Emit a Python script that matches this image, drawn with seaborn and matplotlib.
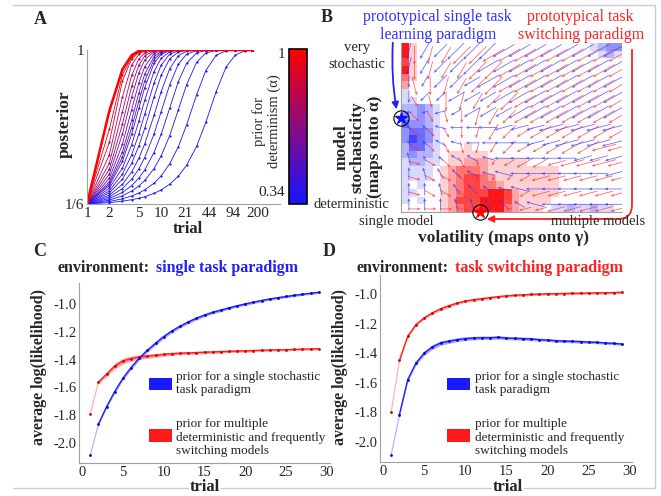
import numpy as np
import pandas as pd
import matplotlib
matplotlib.use('Agg')
import matplotlib.pyplot as plt
import seaborn as sns
from matplotlib.colors import LinearSegmentedColormap, Normalize
from matplotlib.cm import ScalarMappable
from matplotlib.patches import Rectangle
from matplotlib.lines import Line2D
from matplotlib.ticker import FormatStrFormatter, NullLocator

sns.set_style('white')
plt.rcParams['font.family'] = ['Liberation Serif', 'DejaVu Serif']
plt.rcParams['axes.unicode_minus'] = False

W, H = 661, 496
GREY = '#a0a0a0'

# ---------------- A: posterior of the true model over trials ----------------
trials_a = [1, 2, 3, 4, 5, 6, 8, 10, 13, 17, 22, 30, 40, 55, 75, 100, 135, 170]
alphas_a = [1.0, 0.93, 0.86, 0.79, 0.73, 0.67, 0.62, 0.57, 0.53, 0.50,
            0.47, 0.44, 0.42, 0.40, 0.39, 0.38, 0.37, 0.36, 0.35, 0.34]
# read until each curve reaches the top, it stays at 1 afterwards
posterior_a = [
    [0.167, 0.670, 0.895, 0.972, 0.995],
    [0.167, 0.570, 0.865, 0.962, 0.990, 0.998],
    [0.167, 0.500, 0.833, 0.952, 0.988, 0.997],
    [0.167, 0.433, 0.745, 0.918, 0.977, 0.994],
    [0.167, 0.387, 0.666, 0.863, 0.952, 0.984, 0.998],
    [0.167, 0.354, 0.599, 0.804, 0.918, 0.968, 0.996],
    [0.167, 0.328, 0.545, 0.745, 0.877, 0.946, 0.991, 0.998],
    [0.167, 0.305, 0.490, 0.678, 0.822, 0.910, 0.980, 0.996],
    [0.167, 0.287, 0.448, 0.620, 0.767, 0.869, 0.964, 0.991, 0.999],
    [0.167, 0.276, 0.420, 0.580, 0.724, 0.833, 0.948, 0.985, 0.998],
    [0.167, 0.266, 0.397, 0.545, 0.684, 0.797, 0.928, 0.977, 0.996],
    [0.167, 0.252, 0.361, 0.487, 0.615, 0.728, 0.883, 0.955, 0.990, 0.999],
    [0.167, 0.238, 0.328, 0.433, 0.545, 0.652, 0.821, 0.918, 0.977, 0.996],
    [0.167, 0.227, 0.301, 0.387, 0.481, 0.576, 0.745, 0.863, 0.952, 0.989, 0.998],
    [0.167, 0.215, 0.273, 0.340, 0.414, 0.492, 0.646, 0.774, 0.898, 0.969, 0.993, 0.999],
    [0.167, 0.205, 0.250, 0.301, 0.357, 0.418, 0.545, 0.666, 0.811, 0.923, 0.977, 0.997],
    [0.167, 0.196, 0.229, 0.266, 0.307, 0.351, 0.445, 0.544, 0.684, 0.828, 0.928, 0.984, 0.998],
    [0.167, 0.188, 0.211, 0.237, 0.264, 0.294, 0.358, 0.427, 0.536, 0.675, 0.812, 0.933, 0.984, 0.998],
    [0.167, 0.180, 0.195, 0.210, 0.226, 0.243, 0.279, 0.319, 0.384, 0.476, 0.594, 0.757, 0.889, 0.971, 0.996],
    [0.167, 0.174, 0.182, 0.190, 0.198, 0.206, 0.224, 0.243, 0.273, 0.317, 0.376, 0.478, 0.609, 0.774, 0.908,
     0.973, 0.996, 0.999],
]
xticks_a = [1, 2, 5, 10, 21, 44, 94, 200]

# ---------------- B: likelihood map + gradient arrows ----------------
# '.' white, '1'-'5' red strength, 'a'-'e' blue strength (rows top to bottom)
heat_rows = [
    "51" + "." * 22 + "abcc",
    "51" + "." * 23 + "aba",
    "41",
    "51",
    "31",
    "2",
    "a",
    "aa",
    "bbcba",
    "cbcba",
    "dccba",
    "cddca",
    "cedca",
    "bddba...1",
    "bcbba.11111",
    "abbaa.1122211111",
    "aaaa.123332111111111",
    "aaaa.123443211111111",
    "a.a..123443321111111",
    "aa...123444554211111",
    "a.a..12444555421111",
    "....." + "12344555321" + "11" + ".aabaabaa.",
]
# arrow direction in steps of 15 degrees (0 = right, 6 = up, C = left, I = down)
blue_dirs = [
    "HGFFFFEEEEEEEE",
    "HGFFFEEEEEEEEE",
    "IGFFEEEEEEEEEE",
    "IFFEEEEEEEEEEE",
    "CDDEEEEEEEEEEE",
    "99BCCCDDDDDDDD",
    "89ABCCCCDDDDDD",
    "789AABCCCCCDDD",
    "6789ABBCCCCCCD",
    "66789ABBCCCCCC",
    "6667789ABCCCCC",
]
red_dirs = [
    "IHGFFEEEEEEEEE",
    "IHGGFFEEEEEEEE",
    "JIHGFFEEEEEEEE",
    "KJIHGFFEEEEEEE",
    "LKJIHGFEEEEEEE",
    "LLKIHGFEEEEEEE",
    "MLKJHGFEEEEEDD",
    "NMLKIGEEEDDDDD",
    "NMMLJHFEDDDDDD",
    "NMMLJHFEDDDDDD",
    "000NLFDDDDDDDD",
]
blue_lens = [
    "33344444444444",
    "33334444444444",
    "22333444444444",
    "22233344444444",
    "11223334444444",
    "11222333344444",
    "11222233334444",
    "21122233333333",
    "22222233333333",
    "22222223333333",
    "22222222333333",
]
red_lens = [
    "33344444444444",
    "33334444444444",
    "33333444444444",
    "22333344444444",
    "22223334444444",
    "22222333444444",
    "22222233344444",
    "22221123334444",
    "22221112333333",
    "22222112333333",
    "22221112233333",
]

# ---------------- C / D: average log likelihood ----------------
trials_cd = list(range(1, 30))
c_blue = [-2.090, -1.865, -1.740, -1.630, -1.535, -1.458, -1.390, -1.333, -1.283, -1.235,
          -1.195, -1.160, -1.130, -1.103, -1.080, -1.060, -1.044, -1.028, -1.013, -1.000,
          -0.987, -0.975, -0.964, -0.955, -0.946, -0.938, -0.930, -0.923, -0.916]
c_blue_err = [0.004, 0.008, 0.010, 0.012, 0.013, 0.014, 0.014, 0.014, 0.014, 0.013,
              0.013, 0.012, 0.012, 0.012, 0.011, 0.011, 0.011, 0.010, 0.010, 0.010,
              0.010, 0.009, 0.009, 0.009, 0.009, 0.009, 0.008, 0.008, 0.008]
c_red = [-1.790, -1.563, -1.505, -1.447, -1.410, -1.393, -1.382, -1.375, -1.370, -1.363,
         -1.358, -1.355, -1.352, -1.350, -1.347, -1.345, -1.343, -1.341, -1.339, -1.337,
         -1.335, -1.333, -1.331, -1.330, -1.329, -1.327, -1.325, -1.324, -1.322]
c_red_err = [0.004, 0.012, 0.017, 0.020, 0.020, 0.018, 0.016, 0.015, 0.014, 0.013,
             0.012, 0.011, 0.011, 0.010, 0.010, 0.010, 0.010, 0.009, 0.009, 0.009,
             0.009, 0.009, 0.008, 0.008, 0.008, 0.008, 0.008, 0.008, 0.008]
d_blue = [-2.087, -1.815, -1.580, -1.467, -1.400, -1.358, -1.331, -1.320, -1.309, -1.302,
          -1.298, -1.296, -1.296, -1.293, -1.298, -1.300, -1.302, -1.304, -1.309, -1.311,
          -1.316, -1.318, -1.320, -1.322, -1.325, -1.327, -1.331, -1.334, -1.338]
d_blue_err = [0.004, 0.008, 0.012, 0.014, 0.015, 0.015, 0.015, 0.014, 0.013, 0.013,
              0.012, 0.012, 0.012, 0.012, 0.011, 0.011, 0.011, 0.011, 0.010, 0.010,
              0.010, 0.010, 0.010, 0.010, 0.009, 0.009, 0.009, 0.009, 0.009]
d_red = [-1.794, -1.449, -1.286, -1.207, -1.162, -1.128, -1.100, -1.080, -1.062, -1.048,
         -1.039, -1.032, -1.025, -1.018, -1.013, -1.009, -1.006, -1.003, -1.001, -0.999,
         -0.998, -0.997, -0.996, -0.995, -0.994, -0.993, -0.992, -0.991, -0.989]
d_red_err = [0.004, 0.008, 0.010, 0.010, 0.010, 0.010, 0.010, 0.010, 0.009, 0.009,
             0.009, 0.009, 0.008, 0.008, 0.008, 0.008, 0.008, 0.008, 0.008, 0.008,
             0.008, 0.008, 0.008, 0.008, 0.008, 0.008, 0.008, 0.008, 0.008]

fig = plt.figure(figsize=(W / 100, H / 100), dpi=100)


def px_axes(x0, y0, x1, y1):
    # axes placed with pixel coords measured from the top-left corner
    return fig.add_axes([x0 / W, 1 - y1 / H, (x1 - x0) / W, (y1 - y0) / H])


def ftext(x, y, s, **kw):
    return fig.text(x / W, 1 - y / H, s, **kw)


def frame(ax):
    for side in ['top', 'right']:
        ax.spines[side].set_visible(False)
    for side in ['left', 'bottom']:
        ax.spines[side].set_visible(True)
        ax.spines[side].set_color(GREY)
        ax.spines[side].set_linewidth(0.8)
    ax.tick_params(direction='in', length=3, color=GREY, pad=2)
    ax.set_xlabel('')
    ax.set_ylabel('')


# ---- panel A ----
axA = px_axes(87, 50, 280, 204)
rows = []
for a, vals in zip(alphas_a, posterior_a):
    vals = vals + [1.0] * (len(trials_a) - len(vals))
    for t, v in zip(trials_a, vals):
        rows.append((t, v, a))
df_a = pd.DataFrame(rows, columns=['trial', 'posterior', 'alpha'])
cmap_a = LinearSegmentedColormap.from_list('det', ['#1515ff', '#ff0000'])
sns.lineplot(data=df_a, x='trial', y='posterior', hue='alpha', palette=cmap_a,
             hue_norm=(0.34, 1.0), estimator=None, legend=False, linewidth=0.6,
             marker='o', markersize=1.6, markeredgewidth=0, ax=axA)
red_top = df_a[df_a['alpha'] == 1.0]
sns.lineplot(data=red_top, x='trial', y='posterior', color='#ff0000', linewidth=1.8,
             estimator=None, ax=axA)
axA.set_xscale('log')
axA.set_xlim(1, 400)
axA.set_ylim(1 / 6, 1.0)
axA.set_xticks(xticks_a)
axA.set_xticklabels([str(t) for t in xticks_a])
axA.xaxis.set_minor_locator(NullLocator())
axA.set_yticks([1 / 6, 1.0])
axA.set_yticklabels(['1/6', '1'])
axA.set_yticks([0.31, 0.53, 0.76], minor=True)
frame(axA)
axA.tick_params(which='both', direction='in', length=3, color=GREY, labelsize=11)
ftext(65, 124, 'posterior', rotation=90, fontsize=12.5, fontweight='bold', ha='center', va='center')
ftext(188, 229, 'trial', fontsize=12, fontweight='bold', ha='center', va='center')

cax = px_axes(289, 49, 307, 204)
cb = fig.colorbar(ScalarMappable(Normalize(0.34, 1.0), cmap_a), cax=cax)
cb.set_ticks([])
cb.outline.set_linewidth(1.2)
cb.outline.set_edgecolor('k')
ftext(285, 55, '1', ha='right', va='center', fontsize=11)
ftext(285, 192, '0.34', ha='right', va='center', fontsize=11)
ftext(267, 121, 'prior for\ndeterminism (α)', rotation=90, ha='center', va='center',
      fontsize=10.5, linespacing=1.15)

# ---- panel B ----
axB = px_axes(401, 43, 622, 212)
levels = {'.': 0}
for i, ch in enumerate('12345'):
    levels[ch] = i + 1
for i, ch in enumerate('abcde'):
    levels[ch] = -(i + 1)
heat = np.array([[levels[ch] for ch in r.ljust(28, '.')] for r in heat_rows])
cmap_b = LinearSegmentedColormap.from_list('bwr_b', ['#3535ff', '#ffffff', '#ff0000'])
sns.heatmap(heat, ax=axB, cmap=cmap_b, vmin=-5.5, vmax=5.5, cbar=False,
            xticklabels=False, yticklabels=False)
frame(axB)
axB.tick_params(length=0)

codes24 = '0123456789ABCDEFGHIJKLMN'


def arrow_field(dir_rows, len_rows, dx, dy, color):
    ang = np.radians([[codes24.index(ch) * 15 for ch in r] for r in dir_rows])
    lens = np.array([[int(ch) for ch in r] for r in len_rows]) * 0.8
    cols, rws = np.meshgrid(np.arange(ang.shape[1]), np.arange(ang.shape[0]))
    axB.quiver(2 * cols + 1 + dx, 2 * rws + 1 + dy, lens * np.cos(ang), lens * np.sin(ang),
               color=color, alpha=0.75, angles='uv', scale_units='x', scale=1,
               width=0.0035, headwidth=4, headlength=4.5, headaxislength=4,
               pivot='middle', zorder=3)


arrow_field(red_dirs, red_lens, 0.7, 0.6, '#ff3030')
arrow_field(blue_dirs, blue_lens, 0.0, 0.0, '#3535ff')

axB.plot([0], [9.8], marker='o', ms=11, mfc='none', mec='k', mew=0.8, clip_on=False, zorder=6)
axB.plot([0], [9.8], marker='*', ms=9, color='#1010ff', mec='#1010ff', clip_on=False, zorder=6)
axB.plot([10.0], [22], marker='o', ms=11, mfc='none', mec='k', mew=0.8, clip_on=False, zorder=6)
axB.plot([10.0], [22], marker='*', ms=9, color='#ff0000', mec='#ff0000', clip_on=False, zorder=6)

ftext(437, 17, 'prototypical single task', color='#3030ff', fontsize=11.5, ha='center', va='center')
ftext(438, 35, 'learning paradigm', color='#3030ff', fontsize=11.5, ha='center', va='center')
ftext(580, 17, 'prototypical task', color='#ff2020', fontsize=11.5, ha='center', va='center')
ftext(581, 35, 'switching paradigm', color='#ff2020', fontsize=11.5, ha='center', va='center')
ftext(357, 48, 'very', fontsize=10.5, ha='center', va='center')
ftext(357, 65, 'stochastic', fontsize=10.5, ha='center', va='center')
ftext(389, 205, 'deterministic', fontsize=10.5, ha='right', va='center')
ftext(396, 222, 'single model', fontsize=10.5, ha='center', va='center')
ftext(598, 222, 'multiple models', fontsize=10.5, ha='center', va='center')
ftext(504, 238, 'volatility (maps onto γ)', fontsize=12.5, fontweight='bold', ha='center', va='center')
ftext(358, 147, 'model\nstochasticity\n(maps onto α)', rotation=90, fontsize=12.5,
      fontweight='bold', ha='center', va='center', linespacing=1.05)

axB.annotate('', xy=(397, H - 112), xytext=(393, H - 40), xycoords='figure pixels',
             textcoords='figure pixels', annotation_clip=False,
             arrowprops=dict(arrowstyle='-|>', color='#2020ff', lw=1.3,
                             connectionstyle='arc3,rad=0.06', mutation_scale=10))
axB.annotate('', xy=(484, H - 219), xytext=(632, H - 47), xycoords='figure pixels',
             textcoords='figure pixels', annotation_clip=False,
             arrowprops=dict(arrowstyle='-|>', color='#ff2020', lw=1.3,
                             connectionstyle='angle,angleA=-90,angleB=0,rad=14',
                             mutation_scale=10))


# ---- panels C and D ----
def loglik_panel(ax, y_blue, e_blue, y_red, e_red, xlim, ylim):
    x = np.array(trials_cd)
    for y, e, col, dark in ((y_red, e_red, '#ff2020', '#d00000'),
                            (y_blue, e_blue, '#2020ff', '#0000c0')):
        y = np.array(y)
        e = np.array(e)
        ax.fill_between(x[:2], (y - e)[:2], (y + e)[:2], color=col, alpha=0.12, lw=0)
        ax.fill_between(x[1:], (y - e)[1:], (y + e)[1:], color=col, alpha=0.4, lw=0)
        sns.lineplot(x=x[:2], y=y[:2], ax=ax, color=col, linewidth=0.8, alpha=0.35)
        sns.lineplot(x=x[1:], y=y[1:], ax=ax, color=col, linewidth=1.0)
        sns.scatterplot(x=x, y=y, ax=ax, color=dark, s=4, linewidth=0, zorder=4)
    ax.set_xlim(*xlim)
    ax.set_ylim(*ylim)
    ax.set_xticks([0, 5, 10, 15, 20, 25, 30])
    ax.set_yticks([-2.0, -1.8, -1.6, -1.4, -1.2, -1.0])
    ax.yaxis.set_major_formatter(FormatStrFormatter('%.1f'))
    frame(ax)
    ax.tick_params(labelsize=10.5)


axC = px_axes(79, 283, 330, 463)
loglik_panel(axC, c_blue, c_blue_err, c_red, c_red_err, (-0.37, 30.37), (-2.144, -0.849))
axD = px_axes(380, 275, 632, 462)
loglik_panel(axD, d_blue, d_blue_err, d_red, d_red_err, (-0.36, 30.24), (-2.135, -0.872))

ftext(58, 268, 'environment:', fontsize=11.5, fontweight='bold', ha='left', va='center')
ftext(156, 268, 'single task paradigm', color='#2020ff', fontsize=11.5, fontweight='bold',
      ha='left', va='center')
ftext(357, 268, 'environment:', fontsize=11.5, fontweight='bold', ha='left', va='center')
ftext(455, 268, 'task switching paradigm', color='#ff2020', fontsize=11.5, fontweight='bold',
      ha='left', va='center')

for xc in (39, 340):
    ftext(xc, 367, 'average log(likelihood)', rotation=90, fontsize=11.5, fontweight='bold',
          ha='center', va='center')

blue_label = 'prior for a single stochastic\ntask paradigm'
red_label = 'prior for multiple\ndeterministic and frequently\nswitching models'
for px0, tx in ((149, 176), (447, 475)):
    for (y0, y1), col, lab, yc in (((378, 390), '#1a1aff', blue_label, 383.5),
                                   ((429, 442), '#ff1a1a', red_label, 437.5)):
        fig.add_artist(Rectangle((px0 / W, 1 - y1 / H), 23 / W, (y1 - y0) / H,
                                 transform=fig.transFigure, color=col, lw=0))
        ftext(tx, yc, lab, fontsize=9.5, ha='left', va='center', linespacing=1.12)

# panel frame lines and letters
fig.add_artist(Line2D([13 / W, 655 / W], [1 - 5 / H] * 2, transform=fig.transFigure, color='#cccccc', lw=1))
fig.add_artist(Line2D([655 / W] * 2, [1 - 5 / H, 1 - 488 / H], transform=fig.transFigure, color='#cccccc', lw=1))
fig.add_artist(Line2D([13 / W, 655 / W], [1 - 488 / H] * 2, transform=fig.transFigure, color='#cccccc', lw=1))
for xc in (205, 508):
    ftext(xc, 487, 'trial', fontsize=12, fontweight='bold', ha='center', va='center',
          bbox=dict(fc='white', ec='none', pad=1))

for letter, x, y in (('A', 40, 19), ('B', 327, 17), ('C', 40, 252), ('D', 329, 252)):
    ftext(x, y, letter, fontsize=13, fontweight='bold', ha='center', va='center')

fig.savefig('out.png', dpi=100)
